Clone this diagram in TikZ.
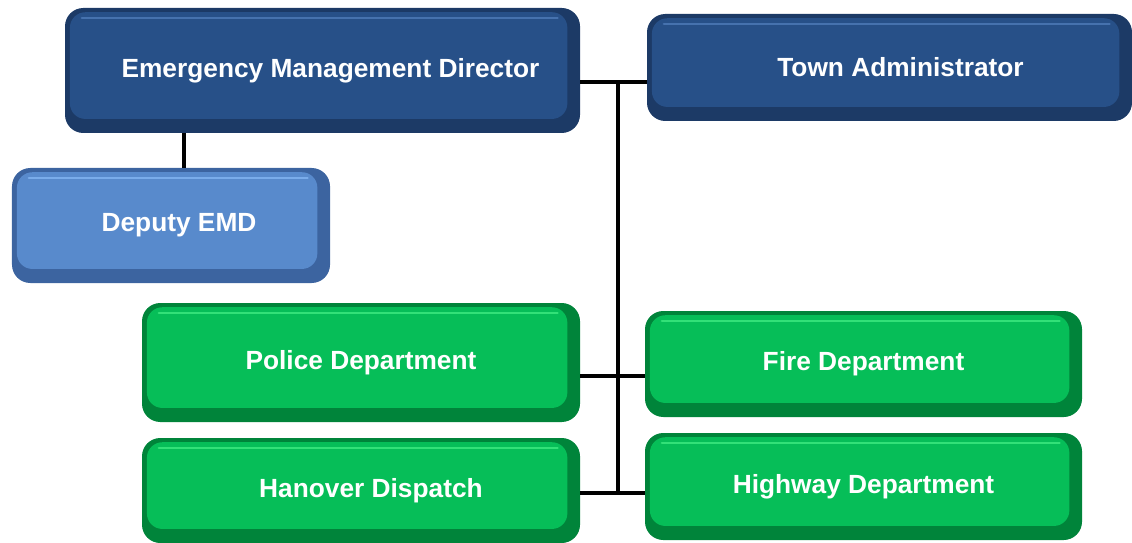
\documentclass[tikz,border=0pt]{standalone}
\usepackage{fontspec}
\setmainfont{Liberation Sans}
\usepackage{tikz}
\definecolor{emdbase}{RGB}{39,80,136}
\definecolor{emdedge}{RGB}{28,58,102}
\definecolor{emdhi}{RGB}{70,114,174}
\definecolor{depbase}{RGB}{88,138,204}
\definecolor{depedge}{RGB}{60,100,160}
\definecolor{dephi}{RGB}{122,172,234}
\definecolor{deptbase}{RGB}{6,190,88}
\definecolor{deptedge}{RGB}{0,132,58}
\definecolor{depthi}{RGB}{50,225,120}
\tikzset{orgbox/.style={fill=#1edge, rounded corners=13pt, text=white,
      font=\fontsize{18.7}{22}\selectfont\bfseries, inner sep=0pt,
      path picture={
        \fill[#1base, rounded corners=11pt]
          ([shift={(3.5pt,10pt)}]path picture bounding box.south west) rectangle
          ([shift={(-9pt,-3pt)}]path picture bounding box.north east);
        \draw[#1hi, line width=1.8pt, line cap=round]
          ([shift={(12pt,-7pt)}]path picture bounding box.north west) --
          ([shift={(-16pt,-7pt)}]path picture bounding box.north east);}}}
\tikzset{link/.style={line width=2.2pt}}

\begin{document}
\begin{tikzpicture}
    \useasboundingbox (0,0) rectangle (28.3,-13.575);
    \node[orgbox=emd, minimum width=12.875cm, minimum height=3.125cm] (emd) at (8.0625,-1.7625) {\hspace*{0.4cm}Emergency Management Director};
    \node[orgbox=emd, minimum width=12.125cm, minimum height=2.675cm] (townadmin) at (22.2375,-1.6875) {\hspace*{0.55cm}\raisebox{0.05cm}{Town Administrator}};
    \node[orgbox=dep, minimum width=7.95cm, minimum height=2.875cm] (deputy) at (4.275,-5.6375) {\hspace*{0.4cm}\raisebox{0.1cm}{Deputy EMD}};
    \node[orgbox=dept, minimum width=10.95cm, minimum height=2.975cm] (police) at (9.025,-9.0625) {\raisebox{0.1cm}{Police Department}};
    \node[orgbox=dept, minimum width=10.925cm, minimum height=2.65cm] (fire) at (21.5875,-9.1) {\raisebox{0.05cm}{Fire Department}};
    \node[orgbox=dept, minimum width=10.95cm, minimum height=2.625cm] (dispatch) at (9.025,-12.2625) {\hspace*{0.5cm}Hanover Dispatch};
    \node[orgbox=dept, minimum width=10.925cm, minimum height=2.675cm] (highway) at (21.5875,-12.1625) {\raisebox{0.05cm}{Highway Department}};
    \coordinate (top) at (15.45,-2.05);
    \coordinate (mid) at (15.45,-9.4);
    \coordinate (bot) at (15.45,-12.325);
    \coordinate (depx) at (4.6,0);
    \draw[link] (emd.east |- top) -- (townadmin.west |- top);
    \draw[link] (top) -- (bot);
    \draw[link] (police.east |- mid) -- (fire.west |- mid);
    \draw[link] (dispatch.east |- bot) -- (highway.west |- bot);
    \draw[link] (deputy.north -| depx) -- (emd.south -| depx);
  \end{tikzpicture}
\end{document}
